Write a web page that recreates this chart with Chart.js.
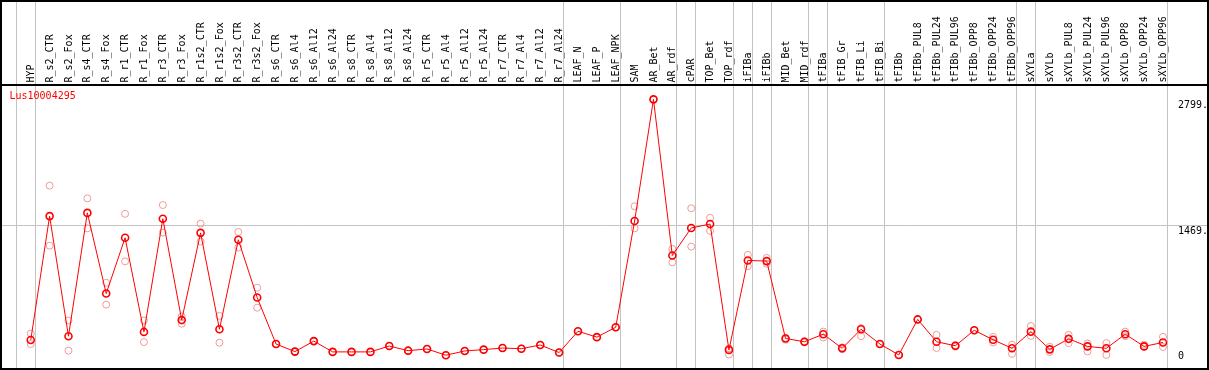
<!DOCTYPE html>
<html><head><meta charset="utf-8">
<script src="https://cdn.jsdelivr.net/npm/chart.js@4/dist/chart.umd.min.js"></script>
<style>html,body{margin:0;padding:0;background:#fff;overflow:hidden}#wrap{width:1209px;height:370px;position:relative}canvas{display:block}</style>
</head><body><div id="wrap"><canvas id="c" width="1209" height="370"></canvas></div>
<script>
const geneName = 'Lus10004295';
const categories = ['HYP','R_s2_CTR','R_s2_Fox','R_s4_CTR','R_s4_Fox','R_r1_CTR','R_r1_Fox','R_r3_CTR','R_r3_Fox','R_r1s2_CTR','R_r1s2_Fox','R_r3s2_CTR','R_r3s2_Fox','R_s6_CTR','R_s6_Al4','R_s6_Al12','R_s6_Al24','R_s8_CTR','R_s8_Al4','R_s8_Al12','R_s8_Al24','R_r5_CTR','R_r5_Al4','R_r5_Al12','R_r5_Al24','R_r7_CTR','R_r7_Al4','R_r7_Al12','R_r7_Al24','LEAF_N','LEAF_P','LEAF_NPK','SAM','AR_Bet','AR_rdf','cPAR','TOP_Bet','TOP_rdf','iFIBa','iFIBb','MID_Bet','MID_rdf','tFIBa','tFIB_Gr','tFIB_Li','tFIB_Bi','tFIBb','tFIBb_PUL8','tFIBb_PUL24','tFIBb_PUL96','tFIBb_OPP8','tFIBb_OPP24','tFIBb_OPP96','sXYLa','sXYLb','sXYLb_PUL8','sXYLb_PUL24','sXYLb_PUL96','sXYLb_OPP8','sXYLb_OPP24','sXYLb_OPP96'];
const meanValues = [257,1566,298,1600,748,1337,343,1538,468,1389,371,1316,706,215,135,246,132,132,132,194,145,163,97,142,156,173,166,205,125,350,288,392,1514,2799,1150,1441,1482,153,1098,1091,274,239,319,170,371,215,100,475,239,197,360,260,170,346,159,270,190,170,319,190,232];
const rep1Values = [325,1888,464,1753,862,1590,464,1683,506,1486,512,1399,810,215,135,246,132,132,132,194,145,163,97,142,156,173,166,205,125,350,288,392,1670,2799,1219,1649,1548,170,1157,1125,280,245,346,180,384,215,100,475,312,203,360,291,208,405,187,312,221,225,346,208,291];
const rep2Values = [215,1254,145,1437,631,1088,236,1392,429,1296,229,1233,599,215,135,246,132,132,132,194,145,163,97,142,156,173,166,205,125,350,288,392,1437,2799,1077,1244,1410,104,1036,1063,260,232,284,160,298,215,100,475,173,187,360,232,111,301,131,225,138,100,298,187,184];
const yTickValues = [0, 1469, 2799];
const yTickLabels = ['0', '1469.', '2799.'];
const yGridValues = [1469];
const groupEnds = [-1, 0, 28, 31, 34, 35, 37, 38, 39, 41, 42, 45, 52, 53, 60];

const FONT = '10px "DejaVu Sans Mono", monospace';
const toXY = arr => arr.map((v, i) => ({x: i, y: v}));

const decor = {
  id: 'decor',
  beforeDatasetsDraw(chart) {
    const ctx = chart.ctx, xs = chart.scales.x, ys = chart.scales.y;
    const W = chart.width, H = chart.height;
    ctx.save();
    ctx.strokeStyle = '#c3c3c3';
    ctx.lineWidth = 1;
    groupEnds.forEach(g => {
      const px = Math.round(xs.getPixelForValue(g + 0.21)) + 0.5;
      ctx.beginPath(); ctx.moveTo(px, 0); ctx.lineTo(px, H); ctx.stroke();
    });
    yGridValues.forEach(v => {
      const py = Math.round(ys.getPixelForValue(v)) + 0.5;
      ctx.beginPath(); ctx.moveTo(0, py); ctx.lineTo(W, py); ctx.stroke();
    });
    ctx.restore();
  },
  afterDraw(chart) {
    const ctx = chart.ctx, xs = chart.scales.x, ys = chart.scales.y, ca = chart.chartArea;
    const W = chart.width, H = chart.height;
    ctx.save();
    // header separator and border
    ctx.fillStyle = '#000';
    ctx.fillRect(0, 84, W, 2);
    ctx.strokeStyle = '#000';
    ctx.lineWidth = 2;
    ctx.strokeRect(1, 1, W - 2, H - 2);
    // category labels (rotated)
    ctx.font = FONT;
    ctx.fillStyle = '#000';
    ctx.textAlign = 'left';
    ctx.textBaseline = 'middle';
    categories.forEach((lab, i) => {
      const px = xs.getPixelForValue(i);
      ctx.save();
      ctx.translate(px + 0.5, 82.5);
      ctx.rotate(-Math.PI / 2);
      ctx.fillText(lab, 0, 0);
      ctx.restore();
    });
    // gene title
    ctx.fillStyle = '#ff0000';
    ctx.textBaseline = 'top';
    ctx.fillText(geneName, 9.5, 91.5);
    // y tick labels
    ctx.fillStyle = '#000';
    ctx.textBaseline = 'middle';
    yTickValues.forEach((v, i) => {
      let py = ys.getPixelForValue(v) + 6;
      py = Math.min(py, ca.bottom - 7.5);
      ctx.fillText(yTickLabels[i], 1178, py);
    });
    ctx.restore();
  }
};

new Chart(document.getElementById('c'), {
  type: 'line',
  data: {
    datasets: [
      {
        label: geneName,
        data: toXY(meanValues),
        borderColor: '#ff0000',
        borderWidth: 1,
        pointRadius: 3.5,
        pointBorderWidth: 1.6,
        pointBorderColor: '#ff0000',
        pointBackgroundColor: 'rgba(0,0,0,0)',
        fill: false,
        tension: 0
      },
      {
        label: 'rep1',
        data: toXY(rep1Values),
        showLine: false,
        pointRadius: 3.5,
        pointBorderWidth: 1,
        pointBorderColor: '#f09a9a',
        pointBackgroundColor: 'rgba(0,0,0,0)'
      },
      {
        label: 'rep2',
        data: toXY(rep2Values),
        showLine: false,
        pointRadius: 3.5,
        pointBorderWidth: 1,
        pointBorderColor: '#f09a9a',
        pointBackgroundColor: 'rgba(0,0,0,0)'
      }
    ]
  },
  options: {
    responsive: false,
    animation: false,
    events: [],
    layout: {padding: {top: 86, bottom: 1, left: 1, right: 2}},
    plugins: {legend: {display: false}, tooltip: {enabled: false}},
    scales: {
      x: {type: 'linear', min: -1.332, max: 62.142, display: false},
      y: {type: 'linear', min: 0, max: 2940, display: false}
    }
  },
  plugins: [decor]
});
</script>
</body></html>
